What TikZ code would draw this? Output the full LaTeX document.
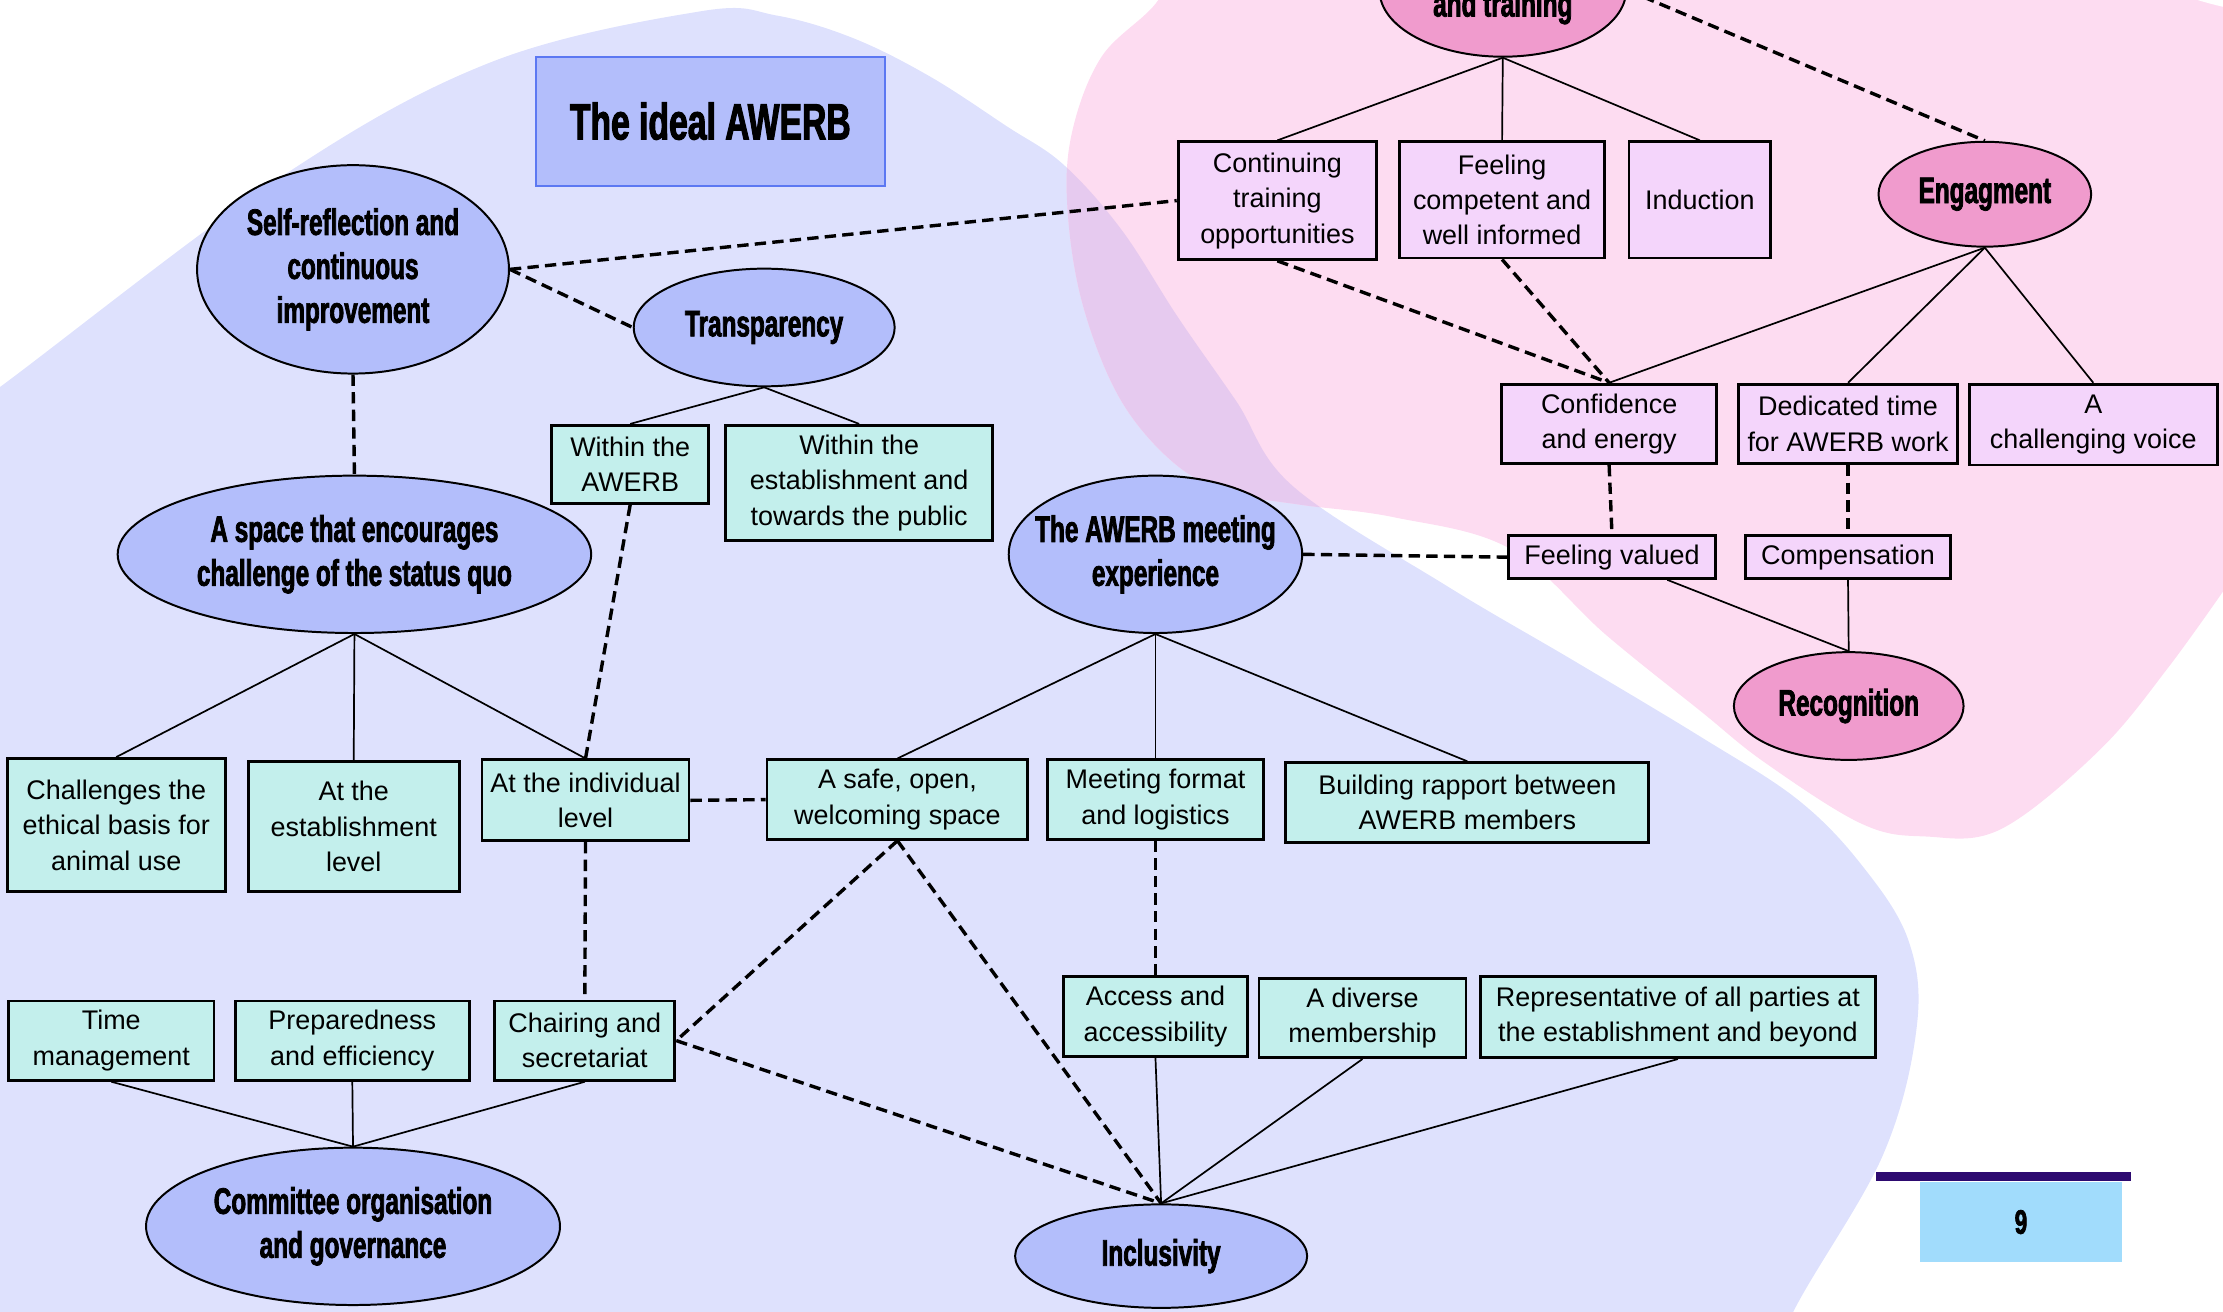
\documentclass[tikz,border=0pt]{standalone}
\usepackage{fontspec}
\setmainfont{Liberation Sans}
\newfontfamily\headfont[FakeStretch=0.66,FakeBold=2]{Liberation Sans Bold}
\usetikzlibrary{shapes.geometric,calc}
\definecolor{bluebg}{HTML}{DEE1FD}
\definecolor{pinkbg}{HTML}{FDDCF1}
\definecolor{mixbg}{HTML}{E6CAEF}
\definecolor{bluenode}{HTML}{B3BEFB}
\definecolor{titleedge}{HTML}{5C78F2}
\definecolor{tealbox}{HTML}{C3EFEC}
\definecolor{pinknode}{HTML}{F09BCD}
\definecolor{pinkbox}{HTML}{F4D5FB}
\definecolor{pagebox}{HTML}{A1DCFC}
\definecolor{pagebar}{HTML}{2D0A70}
\begin{document}
\begin{tikzpicture}[x=0.5pt,y=-0.5pt,
 wh/.style 2 args={minimum width=#1*0.5pt, minimum height=#2*0.5pt},
 tbox/.style={draw=black, line width=1pt, fill=tealbox, align=center, inner sep=0pt, font=\fontsize{9.5}{12.5}\selectfont},
 pbox/.style={tbox, fill=pinkbox},
 htext/.style={align=center, inner sep=0pt, font=\headfont\fontsize{13}{15.5}\selectfont},
 bell/.style={ellipse, draw=black, line width=0.7pt, fill=bluenode, inner sep=0pt},
 pell/.style={bell, fill=pinknode},
 link/.style={line width=0.6pt},
 dlink/.style={line width=1.2pt, dash pattern=on 4pt off 2.2pt},
]
\useasboundingbox (0,0) rectangle (1568,925);
\clip (0,0) rectangle (1568,925);
% backgrounds
\def\bluepath{plot[smooth, tension=0.6] coordinates {(-40,300) (0,273) (198,125) (346,44) (494,8) (548,11) (602,27) (656,54) (710,89) (750,116) (791,162) (831,224) (872,283) (912,343) (1020,413) (1110,466) (1200,520) (1268,564) (1313,610) (1346,663) (1352,724) (1328,815) (1265,925) (1240,990)} -- (-40,990) -- cycle}
\def\pinkpath{plot[smooth, tension=0.6] coordinates {(830,-40) (817,0) (777,40) (756,94) (753,148) (764,216) (791,283) (831,329) (872,348) (917,356) (984,365) (1065,387) (1133,448) (1200,502) (1245,538) (1313,581) (1358,590) (1411,585) (1480,530) (1530,470) (1580,400)} -- (1620,-40) -- cycle}
\fill[bluebg] \bluepath;
\fill[pinkbg] \pinkpath;
\fill[white] (1535,-5) -- (1600,-5) -- (1600,10) .. controls (1580,8) and (1560,4) .. (1535,-5);
\begin{scope}
\clip \bluepath;
\fill[mixbg] \pinkpath;
\end{scope}
% title
\node[draw=titleedge, line width=0.8pt, fill=bluenode, wh={246}{91}, inner sep=0pt, font=\headfont\fontsize{18}{20}\selectfont] (title) at (501,85.5) {The ideal AWERB};
% blue ellipses
\node[bell, wh={220}{147}, label={[htext]center:{Self-reflection and\\continuous\\improvement}}] (sr) at (249,190) {};
\node[bell, wh={184}{83}, label={[htext]center:{Transparency}}] (tr) at (539,231) {};
\node[bell, wh={334}{111}, label={[htext]center:{A space that encourages\\challenge of the status quo}}] (sp) at (250,391) {};
\node[bell, wh={207}{111}, label={[htext]center:{The AWERB meeting\\experience}}] (am) at (815,391) {};
\node[bell, wh={292}{111}, label={[htext]center:{Committee organisation\\and governance}}] (co) at (249,865) {};
\node[bell, wh={206}{73}, label={[htext]center:{Inclusivity}}] (inc) at (819,886) {};
% pink ellipses
\node[pell, wh={174}{94}] (tt) at (1060,-7) {};
\node[htext] (tttext) at (1060,5) {and training};
\node[pell, wh={150}{74}, label={[htext]center:{Engagment}}] (en) at (1400,137) {};
\node[pell, wh={162}{76}, label={[htext]center:{Recognition}}] (rc) at (1304,498) {};
% teal boxes
\node[tbox, wh={111}{55}] (wa) at (444.5,327.5) {Within the\\AWERB};
\node[tbox, wh={188}{81}] (we) at (606,340.5) {Within the\\establishment and\\towards the public};
\node[tbox, wh={154}{94}] (ch) at (82,582) {Challenges the\\ethical basis for\\animal use};
\node[tbox, wh={149}{92}] (ae) at (249.5,583) {At the\\establishment\\level};
\node[tbox, wh={146}{57}] (ai) at (413,564.5) {At the individual\\level};
\node[tbox, wh={184}{56}] (sf) at (633,564) {A safe, open,\\welcoming space};
\node[tbox, wh={152}{56}] (mf) at (815,564) {Meeting format\\and logistics};
\node[tbox, wh={256}{56}] (br) at (1035,566) {Building rapport between\\AWERB members};
\node[tbox, wh={130}{56}] (ac) at (815,717) {Access and\\accessibility};
\node[tbox, wh={146}{56}] (dm) at (961,718) {A diverse\\membership};
\node[tbox, wh={279}{57}] (rp) at (1183.5,717.5) {Representative of all parties at\\the establishment and beyond};
\node[tbox, wh={145}{56}] (tm) at (78.5,734) {Time\\management};
\node[tbox, wh={165}{56}] (pe) at (248.5,734) {Preparedness\\and efficiency};
\node[tbox, wh={127}{56}] (cs) at (412.5,734) {Chairing and\\secretariat};
% pink boxes
\node[pbox, wh={140}{83}] (ct) at (901,141.5) {Continuing\\training\\opportunities};
\node[pbox, wh={145}{82}] (fc) at (1059.5,141) {Feeling\\competent and\\well informed};
\node[pbox, wh={100}{82}] (ind) at (1199,141) {Induction};
\node[pbox, wh={152}{56}] (ce) at (1135,299) {Confidence\\and energy};
\node[pbox, wh={155}{56}] (dt) at (1303.5,299) {Dedicated time\\for AWERB work};
\node[pbox, wh={175}{57}] (cv) at (1476.5,299.5) {A\\challenging voice};
\node[pbox, wh={146}{30}] (fv) at (1137,393) {Feeling valued};
\node[pbox, wh={145}{30}] (cp) at (1303.5,393) {Compensation};
% page number
\node[fill=pagebox, wh={143}{56}, inner sep=0pt, font=\headfont\fontsize{12}{14}\selectfont] (pg) at (1425.5,862) {9};
\fill[pagebar] (1323,827) rectangle (1503,833);
% solid links
\draw[link] (tr.south) -- (wa.north);
\draw[link] (tr.south) -- (we.north);
\draw[link] (sp.south) -- (ch.north);
\draw[link] (sp.south) -- (ae.north);
\draw[link] (sp.south) -- (ai.north);
\draw[link] (am.south) -- (sf.north);
\draw[link] (am.south) -- (mf.north);
\draw[link] (am.south) -- (br.north);
\draw[link] (co.north) -- (tm.south);
\draw[link] (co.north) -- (pe.south);
\draw[link] (co.north) -- (cs.south);
\draw[link] (inc.north) -- (ac.south);
\draw[link] (inc.north) -- (dm.south);
\draw[link] (inc.north) -- (rp.south);
\draw[link] (tt.south) -- (ct.north);
\draw[link] (tt.south) -- (fc.north);
\draw[link] (tt.south) -- (ind.north);
\draw[link] (en.south) -- (ce.north);
\draw[link] (en.south) -- (dt.north);
\draw[link] (en.south) -- (cv.north);
\draw[link] ([xshift=19.5pt]fv.south) -- (rc.north);
\draw[link] (cp.south) -- (rc.north);
% dashed links
\draw[dlink] (sr.east) -- (ct.west);
\draw[dlink] (sr.east) -- (tr.west);
\draw[dlink] (sr.south) -- (sp.north);
\draw[dlink] (wa.south) -- (ai.north);
\draw[dlink] (ai.east) -- (sf.west);
\draw[dlink] (ai.south) -- (cs.north);
\draw[dlink] (sf.south) -- (cs.east);
\draw[dlink] (sf.south) -- (inc.north);
\draw[dlink] (cs.east) -- (inc.north);
\draw[dlink] (mf.south) -- (ac.north);
\draw[dlink] (tt.east) -- (en.north);
\draw[dlink] (ct.south) -- (ce.north);
\draw[dlink] (fc.south) -- (ce.north);
\draw[dlink] (ce.south) -- (fv.north);
\draw[dlink] (dt.south) -- (cp.north);
\draw[dlink] (am.east) -- (fv.west);
\end{tikzpicture}
\end{document}
